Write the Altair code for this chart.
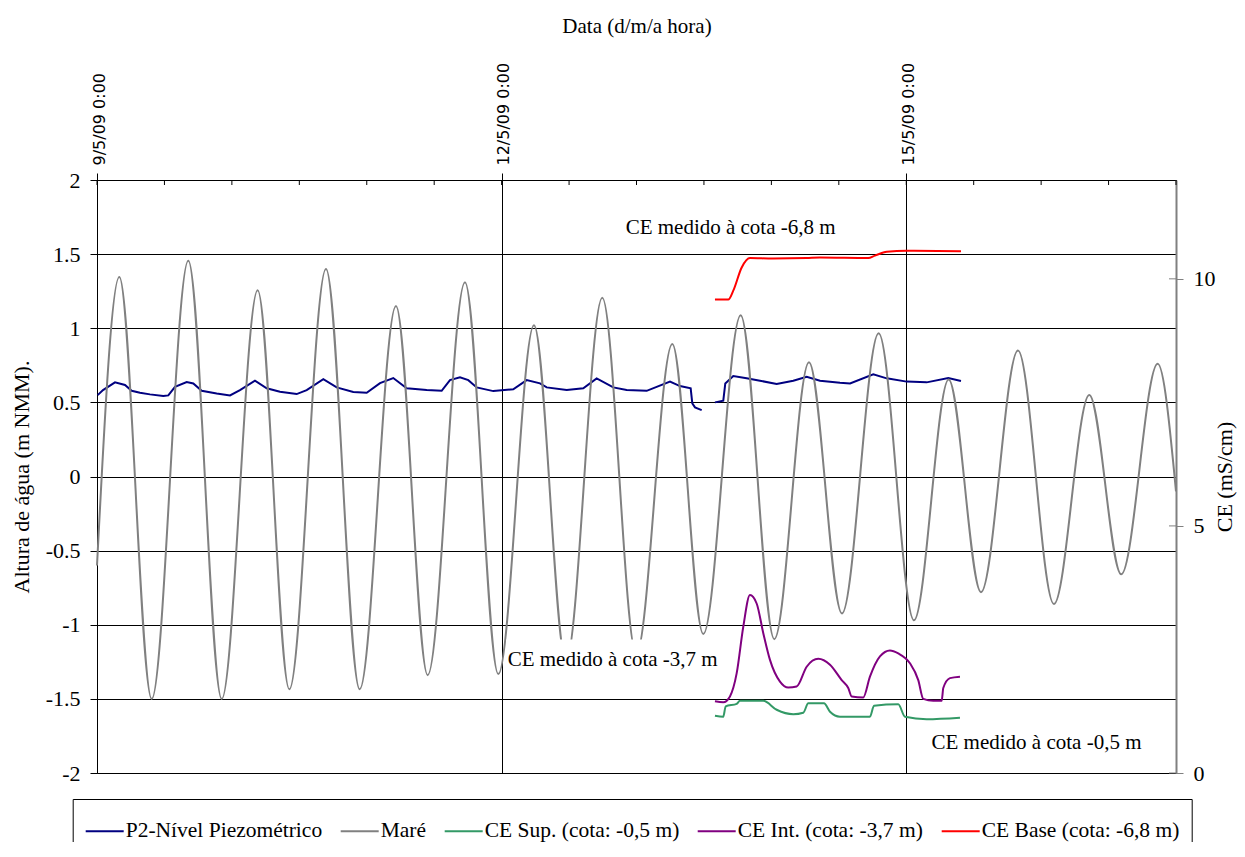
import altair as alt
import pandas as pd

# ---------------- data (x = hours since 9/5/09 0:00) ----------------
series_names = ["P2-Nível Piezométrico", "Maré", "CE Sup. (cota: -0,5 m)",
                "CE Int. (cota: -3,7 m)", "CE Base (cota: -6,8 m)"]
series_colors = ["#000080", "#808080", "#339966", "#800080", "#FF0000"]

tide_h = [0.0, 3.97, 9.73, 16.25, 22.19, 28.59, 34.22, 40.75, 46.74, 53.2, 58.84,
          65.48, 71.41, 77.76, 83.45, 89.91, 95.96, 102.37, 107.88, 114.54, 120.52,
          126.69, 132.56, 139.09, 145.37, 151.55, 157.3, 163.88, 170.28, 176.57,
          182.26, 188.74, 192.0]
tide_v = [-0.6, 1.345, -1.5, 1.455, -1.5, 1.257, -1.435, 1.40, -1.435, 1.15, -1.34,
          1.31, -1.333, 1.02, -1.25, 1.205, -1.2, 0.894, -1.063, 1.088, -1.097,
          0.77, -0.924, 0.966, -0.97, 0.655, -0.78, 0.85, -0.86, 0.55,
          -0.66, 0.76, -0.1]

piezo1_h = [0.12, 1.07, 3.2, 4.98, 6.17, 7.65, 9.43, 11.8, 12.69, 13.88, 15.96, 17.14,
            18.63, 21.3, 23.67, 25.44, 28.11, 30.2, 32.56, 35.53, 37.31, 40.27, 42.65,
            45.6, 47.99, 50.36, 52.72, 55.11, 58.67, 61.33, 62.81, 64.59, 66.07, 67.56,
            70.52, 74.07, 76.46, 78.83, 80.02, 83.58, 86.53, 88.91, 91.87, 94.25, 97.81,
            101.96, 103.74, 105.64, 105.93, 106.41, 107.6]
piezo1_v = [0.549, 0.583, 0.635, 0.617, 0.578, 0.565, 0.554, 0.543, 0.547, 0.605, 0.637,
            0.628, 0.578, 0.56, 0.547, 0.583, 0.646, 0.595, 0.572, 0.556, 0.583, 0.657,
            0.601, 0.57, 0.565, 0.63, 0.664, 0.595, 0.583, 0.578, 0.65, 0.669, 0.65,
            0.601, 0.576, 0.588, 0.65, 0.628, 0.601, 0.583, 0.595, 0.662, 0.601, 0.583,
            0.578, 0.64, 0.61, 0.595, 0.493, 0.466, 0.448]
piezo2_h = [109.96, 111.44, 111.8, 113.22, 115.6, 117.97, 120.94, 123.9, 126.28, 128.65,
            132.21, 134.0, 138.13, 140.52, 144.07, 147.63, 151.48, 153.74]
piezo2_v = [0.5, 0.511, 0.628, 0.678, 0.662, 0.646, 0.624, 0.646, 0.673, 0.646,
            0.632, 0.628, 0.689, 0.662, 0.64, 0.635, 0.664, 0.644]

ce_sup_h = [109.96, 111.44, 111.87, 113.83, 114.41, 118.56, 120.94, 123.9, 125.68, 126.57,
            129.36, 130.43, 132.21, 137.54, 138.26, 142.58, 143.77, 147.63, 153.56]
ce_sup_v = [1.16, 1.14, 1.35, 1.40, 1.46, 1.46, 1.28, 1.19, 1.22, 1.41,
            1.41, 1.24, 1.14, 1.14, 1.36, 1.39, 1.14, 1.09, 1.12]

ce_int_h = [109.96, 111.44, 112.63, 113.83, 115.0, 116.19, 117.38, 118.56, 119.75, 121.53,
            123.01, 124.5, 126.28, 128.35, 130.43, 132.51, 133.68, 134.29, 136.35, 137.54,
            139.32, 141.1, 142.58, 144.66, 146.14, 147.03, 148.81, 150.3, 150.59, 151.78,
            153.56]
ce_int_v = [1.45, 1.43, 1.55, 2.02, 2.96, 3.6, 3.43, 2.83, 2.29, 1.85,
            1.73, 1.75, 2.15, 2.31, 2.19, 1.88, 1.72, 1.55, 1.53, 1.95,
            2.36, 2.48, 2.42, 2.22, 1.88, 1.5, 1.46, 1.46, 1.72, 1.92,
            1.95]

ce_base_h = [109.96, 112.33, 113.22, 114.72, 116.19, 120.28, 126.28, 128.65, 137.24,
             138.43, 140.52, 144.07, 153.74]
ce_base_v = [9.58, 9.58, 9.76, 10.23, 10.42, 10.41, 10.42, 10.43, 10.42,
             10.47, 10.55, 10.57, 10.56]

x_major_ticks = [0, 72, 144]
x_major_labels = ["9/5/09 0:00", "12/5/09 0:00", "15/5/09 0:00"]
x_minor_ticks = [0, 12, 24, 36, 48, 60, 72, 84, 96, 108, 120, 132, 144, 156, 168, 180, 192]
y_left_ticks = [-2, -1.5, -1, -0.5, 0, 0.5, 1, 1.5, 2]
y_right_ticks = [0, 5, 10]

note_texts = ["CE medido à cota -6,8 m", "CE medido à cota -3,7 m", "CE medido à cota -0,5 m"]
note_h = [94.07, 73.08, 148.5]
note_v = [1.637, -1.275, -1.838]
# white box behind the middle note
box_h = [72.8]
box_h2 = [111.0]
box_v = [-1.1]
box_v2 = [-1.4]

# ---------------- tables ----------------
piezo_df = pd.DataFrame({
    "h": piezo1_h + piezo2_h,
    "v": piezo1_v + piezo2_v,
    "seg": ["a"] * len(piezo1_h) + ["b"] * len(piezo2_h),
    "serie": series_names[0],
})
tide_df = pd.DataFrame({"h": tide_h, "v": tide_v, "serie": series_names[1]})
ce_df = pd.concat([
    pd.DataFrame({"h": ce_sup_h, "ce": ce_sup_v, "serie": series_names[2]}),
    pd.DataFrame({"h": ce_int_h, "ce": ce_int_v, "serie": series_names[3]}),
    pd.DataFrame({"h": ce_base_h, "ce": ce_base_v, "serie": series_names[4]}),
])
minor_df = pd.DataFrame({"h": x_minor_ticks})
rtick_df = pd.DataFrame({"ce": y_right_ticks})
note_df = pd.DataFrame({"h": note_h, "v": note_v, "txt": note_texts})
box_df = pd.DataFrame({"h": box_h, "h2": box_h2, "v": box_v, "v2": box_v2})

SERIF = "Liberation Serif"
W, H = 1079, 593

label_expr = " : ".join(
    f"datum.value == {v} ? '{l}'" for v, l in zip(x_major_ticks, x_major_labels)
) + " : ''"

x_enc = alt.X(
    "h:Q",
    scale=alt.Scale(domain=[0, 192], nice=False, zero=False),
    axis=alt.Axis(
        orient="top", values=x_major_ticks, labelExpr=label_expr,
        labelAngle=270, labelAlign="left", labelBaseline="middle",
        labelFont="DejaVu Sans", labelFontSize=16, labelColor="black",
        labelPadding=8, labelOffset=2, labelFlush=False, labelOverlap=False,
        tickSize=7, tickColor="black", domainColor="black", domainWidth=1,
        grid=True, gridColor="black", gridWidth=1,
        title="Data (d/m/a hora)", titleFont=SERIF, titleFontSize=21,
        titleFontWeight="normal", titleColor="black",
        titleY=-148, titleBaseline="alphabetic",
    ),
)

y_left = alt.Y(
    "v:Q",
    scale=alt.Scale(domain=[-2, 2], nice=False, zero=False),
    axis=alt.Axis(
        orient="left", values=y_left_ticks, labelExpr="datum.value + ''",
        labelFont=SERIF, labelFontSize=22, labelColor="black", labelPadding=10,
        tickSize=7, tickColor="black", domainColor="black",
        grid=True, gridColor="black", gridWidth=1,
        title="Altura de água (m NMM).", titleFont=SERIF, titleFontSize=22,
        titleFontWeight="normal", titleColor="black", titleAngle=270,
        titleX=-68.7, titleY=H / 2, titleAlign="center", titleBaseline="alphabetic",
    ),
)

y_right = alt.Y(
    "ce:Q",
    scale=alt.Scale(domain=[0, 12], nice=False, zero=False),
    axis=alt.Axis(
        orient="right", values=y_right_ticks, labelExpr="datum.value + ''",
        labelFont=SERIF, labelFontSize=22, labelColor="black", labelPadding=10,
        tickSize=7, tickColor="#808080", domainColor="#808080", domainWidth=2,
        grid=False,
        title="CE (mS/cm)", titleFont=SERIF, titleFontSize=22,
        titleFontWeight="normal", titleColor="black", titleAngle=270,
        titleX=55, titleY=H / 2, titleAlign="center", titleBaseline="alphabetic",
    ),
)

color_enc = alt.Color(
    "serie:N",
    scale=alt.Scale(domain=series_names, range=series_colors),
    legend=alt.Legend(
        title=None, orient="none", legendX=-24.3, legendY=619,
        direction="horizontal", columns=5, symbolType="stroke",
        symbolSize=1444, symbolStrokeWidth=2, labelFont=SERIF, labelFontSize=21.5,
        labelColor="black", labelOffset=1, labelLimit=500, columnPadding=14,
        padding=12, strokeColor="black", fillColor="white",
    ),
)

minor_ticks = alt.Chart(minor_df).mark_rule(color="black", strokeWidth=1).encode(
    x=x_enc, y=alt.value(0), y2=alt.value(5)
)
piezo = alt.Chart(piezo_df).mark_line(strokeWidth=2).encode(
    x=x_enc, y=y_left, color=color_enc, detail="seg:N"
)
tide = alt.Chart(tide_df).mark_line(strokeWidth=2, interpolate="monotone").encode(
    x=x_enc, y=y_left, color=color_enc
)
box = alt.Chart(box_df).mark_rect(color="white").encode(
    x=x_enc, x2="h2:Q", y=y_left, y2="v2:Q"
)
notes = alt.Chart(note_df).mark_text(
    align="left", baseline="alphabetic", font=SERIF, fontSize=21, color="black"
).encode(x=x_enc, y=y_left, text="txt:N")

left = alt.layer(minor_ticks, piezo, tide, box, notes)

ce_lines = alt.Chart(ce_df).mark_line(strokeWidth=2, interpolate="monotone").encode(
    x=x_enc, y=y_right, color=color_enc
)
rticks = alt.Chart(rtick_df).mark_rule(color="#808080", strokeWidth=1).encode(
    y=y_right, x=alt.value(W - 7), x2=alt.value(W)
)
right = alt.layer(ce_lines, rticks)

chart = (
    alt.layer(left, right)
    .resolve_scale(y="independent")
    .properties(
        width=W, height=H,
        padding={"left": 89, "top": 172, "right": 61, "bottom": 69},
        autosize=alt.AutoSizeParams(type="none"),
        background="white",
    )
    .configure_view(stroke="#808080", strokeWidth=1)
)

chart.save("out.html", embed_options={"renderer": "svg", "actions": False})
